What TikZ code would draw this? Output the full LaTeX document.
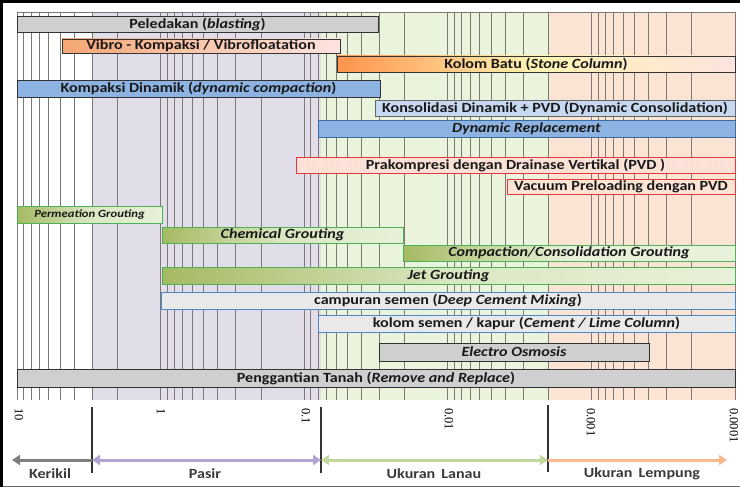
\documentclass[tikz,border=0pt]{standalone}
\usepackage{fontspec}
\usepackage{tikz}
\usetikzlibrary{positioning}
\usetikzlibrary{calc,patterns,arrows.meta}
\newfontfamily\barfont[FakeStretch=1.15]{Carlito}
\newfontfamily\tickfont{Liberation Serif}

\definecolor{lavender}{HTML}{E2DEE9}
\definecolor{silt}{HTML}{EAF3DC}
\definecolor{clay}{HTML}{FBE4D4}
\definecolor{gridgray}{HTML}{7F7774}
\definecolor{bluebar}{HTML}{8DB3E2}
\definecolor{lightblue}{HTML}{C6D9F1}
\definecolor{redline}{HTML}{E0383B}
\definecolor{greenline}{HTML}{4CB258}
\definecolor{olive}{HTML}{A5BA63}
\definecolor{palegreen}{HTML}{E8F1D9}
\definecolor{cementline}{HTML}{4A86C8}
\definecolor{labelgray}{HTML}{3A3A3A}
\definecolor{vibroleft}{HTML}{F5A673}
\definecolor{vibroright}{HTML}{FDE3DF}
\definecolor{sandarrow}{HTML}{B3A3D2}
\definecolor{siltarrow}{HTML}{C3D69B}
\definecolor{clayarrow}{HTML}{F9B88E}

\tikzset{
  bar/.style={draw=black!80, line width=0.9pt, rectangle, inner sep=0pt, outer sep=0pt,
    anchor=north west, font=\barfont\bfseries\fontsize{14}{16}\selectfont, text=black!90},
  graybar/.style={bar, fill=black!19},
  bluebar/.style={bar, fill=bluebar},
  orangebar/.style={bar, left color=vibroleft, right color=vibroright, middle color=vibroleft!45!vibroright},
  redbar/.style={bar, draw=redline, fill=clay},
  groutbar/.style={bar, draw=greenline, left color=olive, right color=palegreen, middle color=palegreen!80!olive},
  cementbar/.style={bar, draw=cementline, preaction={fill=black!8}, pattern=dots, pattern color=black!18},
  gridline/.style={gridgray, line width=0.75pt},
  divider/.style={black!80, line width=1.6pt},
  zone/.style={line width=3pt, -{Triangle[length=8pt,width=10pt]}},
  bothzone/.style={zone, {Triangle[length=8pt,width=10pt]}-{Triangle[length=8pt,width=10pt]}},
  ticklabel/.style={font=\tickfont\fontsize{12.5}{14}\selectfont, rotate=-90, anchor=west, inner sep=0pt},
  zonelabel/.style={font=\barfont\bfseries\fontsize{14}{16}\selectfont, text=labelgray}
}

\begin{document}
\begin{tikzpicture}[x=1pt, y=-1pt]
  \useasboundingbox (0,0) rectangle (740,487);

  % soil zones
  \fill[lavender] (92,12) rectangle (321,400);
  \fill[silt] (321,12) rectangle (548,400);
  \fill[clay] (548,12) rectangle (735,400);

  % log grid, 10 .. 0.0001 mm
  \foreach \d in {0,...,4}{
    \foreach \m in {1,...,9}{
      \pgfmathsetmacro\gx{17+143.6*(\d+1-ln(\m)/ln(10))}
      \draw[gridline] (\gx,12) -- (\gx,400);
    }
  }
  \draw[gridline] (17,12) -- (17,400);
  \draw[gridline, line width=0.5pt] (17,12) -- (735,12);

  % methods
  \node[graybar, minimum width=361, minimum height=16] (blast) at (17,16) {Peledakan (\textit{blasting})};
  \node[orangebar, minimum width=278, minimum height=14] (vibro) at (62,39) {Vibro - Kompaksi / Vibrofloatation};
  \node[orangebar, left color=orange!80!red!70!white, middle color=orange!30!yellow!30!white, minimum width=398, minimum height=16] (stone) at (337,56) {Kolom Batu (\textit{Stone Column})};
  \node[bluebar, minimum width=363, minimum height=17] (dyncomp) at (17,80) {Kompaksi Dinamik (\textit{dynamic compaction})};
  \node[bar, draw=black!60, fill=lightblue, minimum width=360, minimum height=16] (dyncons) at (375,100) {Konsolidasi Dinamik + PVD (Dynamic Consolidation)};
  \node[bluebar, draw=cementline!80!black, minimum width=417, minimum height=17] (dynrep) at (318,120) {\textit{Dynamic Replacement}};
  \node[redbar, preaction={fill=clay}, pattern=vertical lines, pattern color=redline!18, minimum width=439, minimum height=16] (prakomp) at (296,157) {Prakompresi dengan Drainase Vertikal (PVD )};
  \node[redbar, minimum width=228, minimum height=15] (vacuum) at (507,179) {Vacuum Preloading dengan PVD};
  \node[groutbar, minimum width=145, minimum height=17, font=\barfont\bfseries\itshape\fontsize{11}{13}\selectfont] (permeation) at (17,206) {Permeation Grouting};
  \node[groutbar, minimum width=241, minimum height=16] (chemical) at (162,227) {\textit{Chemical Grouting}};
  \node[groutbar, middle color=palegreen, minimum width=332, minimum height=16] (compaction) at (403,245) {\textit{Compaction/Consolidation Grouting}};
  \node[groutbar, minimum width=573, minimum height=17] (jet) at (162,267) {\textit{Jet Grouting}};
  \node[cementbar, minimum width=574, minimum height=17] (dcm) at (161,292) {campuran semen (\textit{Deep Cement Mixing})};
  \node[cementbar, minimum width=417, minimum height=17] (lime) at (318,315) {kolom semen / kapur (\textit{Cement / Lime Column})};
  \node[graybar, minimum width=270, minimum height=18] (electro) at (379,343) {\textit{Electro Osmosis}};
  \node[graybar, minimum width=718, minimum height=18] (replace) at (17,369) {Penggantian Tanah (\textit{Remove and Replace})};

  % grain size axis
  \node[ticklabel] (t10) at (19,408) {10};
  \node[ticklabel] (t1) at (161,408) {1};
  \node[ticklabel] (t01) at (306,408) {0.1};
  \node[ticklabel] (t001) at (449,408) {0.01};
  \node[ticklabel] (t0001) at (591,408) {0.001};
  \node[ticklabel] (t00001) at (734,408) {0.0001};

  % soil classes
  \coordinate (gs) at (92,460);
  \coordinate (ss) at (321,460);
  \coordinate (sc) at (548,460);
  \coordinate (left) at (12,460);
  \coordinate (right) at (727,460);
  \draw[divider] (92,407) -- (92,473);
  \draw[divider] (321,407) -- (321,473);
  \draw[divider] (548,405) -- (548,472);
  \draw[zone, black!50] (gs) -- (left);
  \draw[bothzone, sandarrow] (gs) -- (ss);
  \draw[bothzone, siltarrow] (ss) -- (sc);
  \draw[zone, clayarrow] (sc) -- (right);
  \node[zonelabel] (kerikil) at (50,474) {Kerikil};
  \node[zonelabel] (pasir) at (205,474) {Pasir};
  \node[zonelabel] (lanau) at (434,474) {Ukuran\, Lanau};
  \node[zonelabel] (lempung) at (642,474) {Ukuran\, Lempung};

  % frame
  \draw[black!60, line width=0.8pt] (0,486) -- (740,486);
  \draw[black, line width=3pt] (1.5,487) -- (1.5,1.5) -- (740,1.5);
\end{tikzpicture}
\end{document}
